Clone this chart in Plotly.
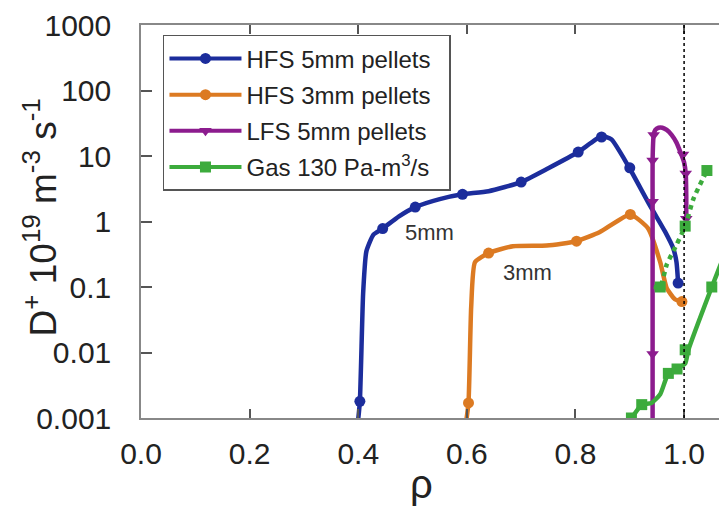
import math
import plotly.graph_objects as go

# ---------------- data ----------------
# HFS 5mm pellets
hfs5_line_rho = [0.399, 0.403, 0.409, 0.415, 0.428, 0.445, 0.475, 0.505, 0.55, 0.592, 0.64, 0.70, 0.75, 0.805, 0.848, 0.866, 0.897, 0.937, 0.965, 0.98, 0.986, 0.989]
hfs5_line_val = [0.0008, 0.0018, 0.08, 0.35, 0.63, 0.78, 1.2, 1.66, 2.2, 2.6, 2.9, 4.0, 6.5, 11.5, 20.0, 18.0, 7.1, 1.76, 0.7, 0.39, 0.24, 0.115]
hfs5_mk_rho = [0.403, 0.445, 0.505, 0.592, 0.70, 0.805, 0.848, 0.90, 0.989]
hfs5_mk_val = [0.0018, 0.78, 1.66, 2.6, 4.0, 11.5, 19.5, 6.6, 0.115]

# HFS 3mm pellets
hfs3_line_rho = [0.598, 0.603, 0.608, 0.615, 0.64, 0.685, 0.747, 0.802, 0.845, 0.901, 0.934, 0.956, 0.968, 0.983, 0.996]
hfs3_line_val = [0.0008, 0.0017, 0.05, 0.24, 0.33, 0.42, 0.43, 0.50, 0.69, 1.28, 0.78, 0.24, 0.096, 0.065, 0.06]
hfs3_mk_rho = [0.603, 0.64, 0.802, 0.901, 0.996]
hfs3_mk_val = [0.0017, 0.33, 0.50, 1.28, 0.06]

# LFS 5mm pellets
lfs5_line_rho = [0.942, 0.942, 0.942, 0.942, 0.944, 0.947, 0.953, 0.960, 0.968, 0.977, 0.986, 0.994, 1.000, 1.003, 1.004, 1.004]
lfs5_line_val = [0.0008, 0.0095, 2.0, 8.5, 21, 25, 27, 27, 25, 21, 16, 11, 8, 5.4, 2.5, 1.1]
lfs5_mk_rho = [0.942, 0.942, 0.942, 0.944, 0.998, 1.003, 1.004]
lfs5_mk_val = [0.0095, 2.0, 8.5, 21, 10.5, 5.4, 1.1]

# Gas 130 Pa-m3/s (solid)
gas_line_rho = [0.895, 0.903, 0.922, 0.94, 0.956, 0.971, 0.987, 1.002, 1.008, 1.051, 1.079, 1.10]
gas_line_val = [0.00093, 0.001, 0.0016, 0.0017, 0.0023, 0.0048, 0.0056, 0.0068, 0.011, 0.10, 0.39, 1.0]
gas_mk_rho = [0.903, 0.922, 0.971, 0.987, 1.002, 1.051]
gas_mk_val = [0.001, 0.0016, 0.0048, 0.0056, 0.011, 0.10]
# Gas (dotted branch)
gasd_line_rho = [0.944, 0.956, 0.968, 0.986, 1.002, 1.017, 1.042]
gasd_line_val = [0.1, 0.1, 0.22, 0.44, 0.85, 2.2, 6.0]
gasd_mk_rho = [0.956, 1.002, 1.042]
gasd_mk_val = [0.1, 0.85, 6.0]

x_ticks = [0.0, 0.2, 0.4, 0.6, 0.8, 1.0]
x_ticktext = ["0.0", "0.2", "0.4", "0.6", "0.8", "1.0"]
y_ticks = [0.001, 0.01, 0.1, 1, 10, 100, 1000]
y_ticktext = ["0.001", "0.01", "0.1", "1", "10", "100", "1000"]
separatrix = 1.0

labels = [("5mm", 0.532, 0.69), ("3mm", 0.711, 0.166)]
x_title = "ρ"
y_title = "D<sup>+</sup> 10<sup>19</sup> m<sup>-3</sup> s<sup>-1</sup>"

# ---------------- styling ----------------
C_BLUE = "#1c2d9c"
C_ORANGE = "#dc7a22"
C_PURPLE = "#8c1c8e"
C_GREEN = "#3cab3c"
FONT = "Arial"

series = [
    ("HFS 5mm pellets", C_BLUE, "circle", [(hfs5_line_rho, hfs5_line_val, "solid", hfs5_mk_rho, hfs5_mk_val)]),
    ("HFS 3mm pellets", C_ORANGE, "circle", [(hfs3_line_rho, hfs3_line_val, "solid", hfs3_mk_rho, hfs3_mk_val)]),
    ("LFS 5mm pellets", C_PURPLE, "triangle-down", [(lfs5_line_rho, lfs5_line_val, "solid", lfs5_mk_rho, lfs5_mk_val)]),
    ("Gas 130 Pa-m<sup>3</sup>/s", C_GREEN, "square", [(gas_line_rho, gas_line_val, "solid", gas_mk_rho, gas_mk_val),
                                                  (gasd_line_rho, gasd_line_val, "dot", gasd_mk_rho, gasd_mk_val)]),
]

fig = go.Figure()
for name, color, sym, parts in series:
    for lx, ly, dash, mx, my in parts:
        fig.add_trace(go.Scatter(x=lx, y=ly, mode="lines", legendgroup=name, showlegend=False,
                                 line=dict(color=color, width=4.5, dash=dash, shape="spline", smoothing=0.5),
                                 hoverinfo="skip"))
        fig.add_trace(go.Scatter(x=mx, y=my, mode="markers", legendgroup=name, showlegend=False,
                                 marker=dict(color=color, symbol=sym, size=11)))
    fig.add_trace(go.Scatter(x=[None], y=[None], mode="lines+markers", name=name + "&nbsp;&nbsp;", legendgroup=name,
                             line=dict(color=color, width=4), marker=dict(color=color, symbol=sym, size=11)))

fig.add_vline(x=separatrix, line=dict(color="black", width=1.5, dash="dot"))

for txt, xr, yv in labels:
    fig.add_annotation(x=xr, y=math.log10(yv), text=txt, showarrow=False,
                       font=dict(family=FONT, size=22, color="#333"))

# axis titles as annotations (placed like the reference)
fig.add_annotation(xref="paper", yref="paper", x=0.4795, y=-0.169, text=x_title, showarrow=False,
                   xanchor="center", yanchor="middle", font=dict(family=FONT, size=40, color="#222"))
fig.add_annotation(xref="paper", yref="paper", x=-0.172, y=0.511, text=y_title, showarrow=False,
                   textangle=-90, xanchor="center", yanchor="middle",
                   font=dict(family=FONT, size=37, color="#222"))

axis_common = dict(showline=True, linecolor="#888", linewidth=1.5, ticks="inside",
                   tickcolor="#555", tickwidth=1.5, showgrid=False, zeroline=False,
                   tickfont=dict(family=FONT, size=30, color="#222"))

# the page body has an 8px margin; the figure is sized/offset so the plot area
# lands where the reference has it
fig.update_layout(
    width=719, height=498,
    margin=dict(l=133, r=0, t=13, b=88),
    plot_bgcolor="white", paper_bgcolor="white",
    font=dict(family=FONT, color="#222"),
    xaxis=dict(range=[0, 1.079], tickvals=x_ticks, ticktext=x_ticktext, ticklen=9, mirror="ticks",
               ticklabelstandoff=8, **axis_common),
    yaxis=dict(type="log", range=[-3, 3], tickvals=y_ticks, ticktext=y_ticktext, ticklen=11,
               ticklabelstandoff=22, ticklabeloverflow="allow", **axis_common),
    legend=dict(x=0.0375, y=0.975, xanchor="left", yanchor="top", bgcolor="white",
                bordercolor="#555", borderwidth=1.5, font=dict(family=FONT, size=24, color="#222"),
                tracegroupgap=2, itemwidth=72),
    showlegend=True,
)

fig.write_html("out.html")
